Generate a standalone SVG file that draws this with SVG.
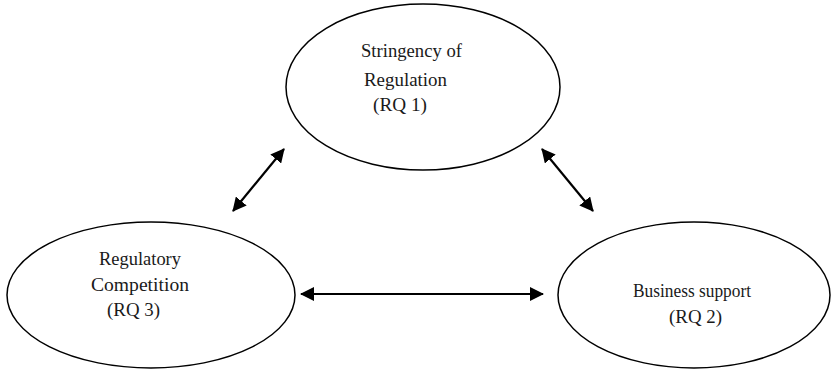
<svg xmlns="http://www.w3.org/2000/svg" width="831" height="377" viewBox="0 0 831 377">
<style>
.node ellipse{fill:#fff;stroke:#000;stroke-width:1.5}
.lbl{font-family:"Liberation Serif","Times New Roman",serif;font-size:19px;fill:#1a1a1a}
.conn line{stroke:#000;stroke-width:2.2;marker-start:url(#ah);marker-end:url(#ah)}
</style>
<defs>
<marker id="ah" viewBox="0 0 14 14" refX="13" refY="7" markerWidth="14" markerHeight="14" markerUnits="userSpaceOnUse" orient="auto-start-reverse">
<path d="M0,0 L14,7 L0,14 Z" fill="#000"/>
</marker>
</defs>
<rect width="831" height="377" fill="#fff"/>
<g id="n1" class="node">
<ellipse cx="423" cy="87" rx="137" ry="83"/>
<text class="lbl" x="361" y="57" textLength="101" lengthAdjust="spacingAndGlyphs">Stringency of</text>
<text class="lbl" x="364" y="86" textLength="83" lengthAdjust="spacingAndGlyphs">Regulation</text>
<text class="lbl" x="373" y="111" textLength="54" lengthAdjust="spacingAndGlyphs">(RQ 1)</text>
</g>
<g id="n3" class="node">
<ellipse cx="151" cy="295" rx="144" ry="73"/>
<text class="lbl" x="99" y="265" textLength="82" lengthAdjust="spacingAndGlyphs">Regulatory</text>
<text class="lbl" x="91" y="291" textLength="98" lengthAdjust="spacingAndGlyphs">Competition</text>
<text class="lbl" x="107" y="316" textLength="53" lengthAdjust="spacingAndGlyphs">(RQ 3)</text>
</g>
<g id="n2" class="node">
<ellipse cx="694" cy="295" rx="136" ry="73"/>
<text class="lbl" x="633" y="297" textLength="118" lengthAdjust="spacingAndGlyphs">Business support</text>
<text class="lbl" x="669" y="323" textLength="53" lengthAdjust="spacingAndGlyphs">(RQ 2)</text>
</g>
<g id="connectors" class="conn">
<line x1="233" y1="211" x2="284" y2="149"/>
<line x1="542" y1="149" x2="593" y2="211"/>
<line x1="301" y1="294" x2="543" y2="294"/>
</g>
</svg>
